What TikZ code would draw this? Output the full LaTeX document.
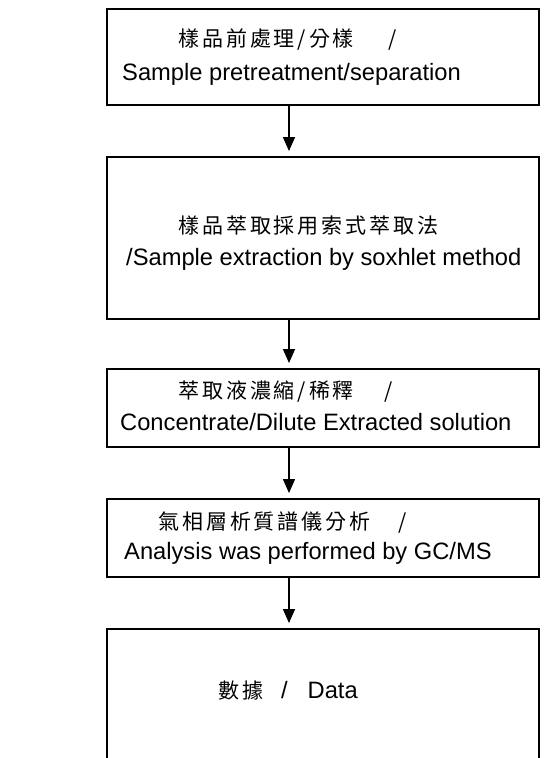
\documentclass[tikz,border=0pt]{standalone}
\usepackage{fontspec}
\setmainfont{Liberation Sans}
\newfontfamily\cjk[LetterSpace=14]{Noto Sans CJK TC}
\usetikzlibrary{arrows.meta}
\begin{document}
\begin{tikzpicture}[x=1pt,y=-1pt,
  box/.style={draw, line width=1.5pt, minimum width=432pt, inner sep=0pt, anchor=north west},
  en/.style={font=\fontsize{23.7}{27}\selectfont, inner sep=0pt, anchor=base west},
  zh/.style={font=\cjk\fontsize{21}{24}\selectfont, inner sep=0pt, anchor=west},
  arr/.style={line width=1.5pt, shorten >=5pt, -{Triangle[length=14pt,width=12pt]}}]
\useasboundingbox (0,0) rectangle (556,758);
\clip (0,0) rectangle (556,758);
\fill[white] (0,0) rectangle (556,758);
% boxes
\node[box, minimum height=96pt]  (b1) at (106,8) {};
\node[box, minimum height=162pt] (b2) at (106,156) {};
\node[box, minimum height=78pt]  (b3) at (106,368) {};
\node[box, minimum height=78pt]  (b4) at (106,498) {};
\node[box, minimum height=200pt] (b5) at (106,628) {};
% texts
\node[zh] (z1) at (178,40) {樣品前處理/分樣\hspace{34pt}/};
\node[en] (e1) at (122,80) {Sample pretreatment/separation};
\node[zh] (z2) at (178,226) {樣品萃取採用索式萃取法};
\node[en] (e2) at (126,265) {/Sample extraction by soxhlet method};
\node[zh] (z3) at (178,392) {萃取液濃縮/稀釋\hspace{30pt}/};
\node[en] (e3) at (120,430) {Concentrate/Dilute Extracted solution};
\node[zh] (z4) at (158,523) {氣相層析質譜儀分析\hspace{28pt}/};
\node[en] (e4) at (124,559) {Analysis was performed by GC/MS};
\node[en] (e5) at (218,698) {{\cjk\fontsize{21}{24}\selectfont 數據}\hspace{18pt}/\hspace{20pt}Data};
% arrows
\coordinate (ax) at (289,0);
\draw[arr] (b1.south -| ax) -- (b2.north -| ax);
\draw[arr] (b2.south -| ax) -- (b3.north -| ax);
\draw[arr] (b3.south -| ax) -- (b4.north -| ax);
\draw[arr] (b4.south -| ax) -- (b5.north -| ax);
\end{tikzpicture}
\end{document}
